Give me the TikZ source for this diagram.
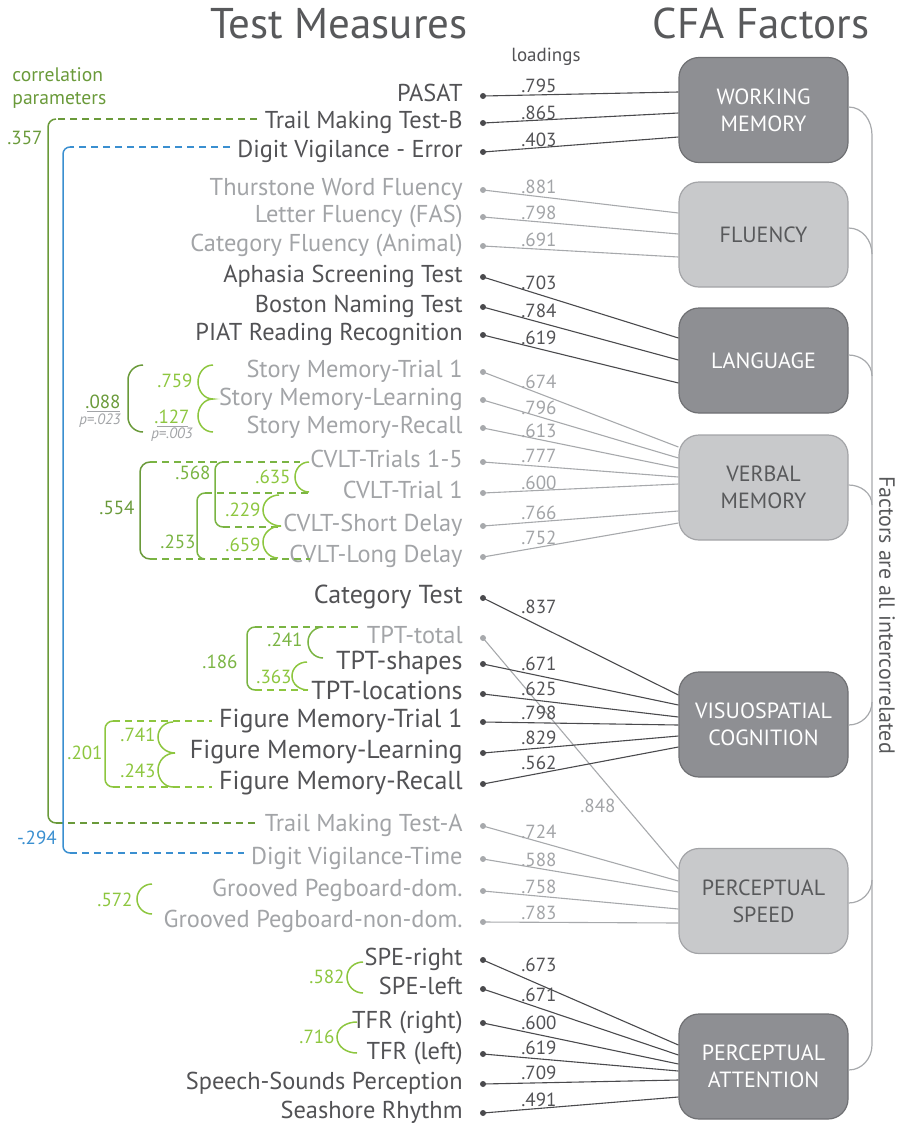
\documentclass[tikz,border=0pt]{standalone}
\usepackage{fontspec}
\setmainfont{PT Sans}
\definecolor{cTd}{HTML}{525255}
\definecolor{cTg}{HTML}{A2A4A7}
\definecolor{cLd}{HTML}{4A4A4D}
\definecolor{cLg}{HTML}{A7A9AC}
\definecolor{cBd}{HTML}{8E8F93}
\definecolor{cBdB}{HTML}{6F7073}
\definecolor{cBg}{HTML}{C8C9CB}
\definecolor{cBgB}{HTML}{A3A4A7}
\definecolor{cTitle}{HTML}{58595B}
\definecolor{gDk}{HTML}{6A9A3A}
\definecolor{gMd}{HTML}{7AB443}
\definecolor{gLt}{HTML}{8DC63F}
\definecolor{blu}{HTML}{3A8FD0}
\begin{document}
\begin{tikzpicture}[x=0.5pt,y=-0.5pt,
  itemd/.style={font=\fontsize{12.2}{14}\selectfont, text=cTd, inner sep=0pt},
  itemD/.style={font=\fontsize{13}{15}\selectfont, text=cTd, inner sep=0pt},
  itemg/.style={font=\fontsize{12.2}{14}\selectfont, text=cTg, inner sep=0pt},
  dotd/.style={circle, fill=cLd, inner sep=0pt, minimum size=3pt},
  dotD/.style={dotd},
  dotg/.style={circle, fill=cLg, inner sep=0pt, minimum size=3pt},
  lnd/.style={draw=cLd, line width=0.55pt},
  lnD/.style={lnd},
  lng/.style={draw=cLg, line width=0.55pt},
  labd/.style={font=\fontsize{9.5}{11}\selectfont, text=cTd, inner sep=0pt},
  labD/.style={labd},
  labg/.style={font=\fontsize{9.5}{11}\selectfont, text=cTg, inner sep=0pt},
  boxd/.style={rounded corners=10pt, fill=cBd, draw=cBdB, line width=0.6pt, minimum width=84.5pt, minimum height=52.5pt, text=white, align=center, font=\fontsize{11}{13.5}\selectfont},
  boxg/.style={rounded corners=10pt, fill=cBg, draw=cBgB, line width=0.6pt, minimum width=84.5pt, minimum height=52.5pt, text=cTitle, align=center, font=\fontsize{11}{13.5}\selectfont},
  brk/.style={line width=0.75pt},
  dsh/.style={line width=0.75pt, dash pattern=on 3.5pt off 2.5pt},
  cl/.style={font=\fontsize{9.5}{11}\selectfont, inner sep=0pt},
  pv/.style={font=\fontsize{7.5}{9}\itshape\selectfont, text=cTg, inner sep=0pt},
  fc/.style={draw=cLg, line width=0.6pt}
]
\useasboundingbox (0,0) rectangle (900,1126);

% titles
\node[font=\fontsize{21.5}{24}\selectfont, text=cTitle, anchor=base east, inner sep=0pt] (t1) at (468,38) {Test Measures};
\node[font=\fontsize{21.5}{24}\selectfont, text=cTitle, anchor=base, inner sep=0pt] (t2) at (761,38) {CFA Factors};
\node[font=\fontsize{9.5}{11}\selectfont, text=cTd, inner sep=0pt] (ld) at (546,57) {loadings};
\node[font=\fontsize{9.8}{12.5}\selectfont, text=gDk, anchor=west, inner sep=0pt] (cp1) at (12,75) {correlation};
\node[font=\fontsize{9.8}{12.5}\selectfont, text=gDk, anchor=west, inner sep=0pt] (cp2) at (12,100) {parameters};

% factor boxes
\node[boxd] (wm) at (763.5,110) {WORKING\\MEMORY};
\node[boxg] (fl) at (763.5,234.5) {FLUENCY};
\node[boxd] (la) at (763.5,360.5) {LANGUAGE};
\node[boxg] (vm) at (763.5,487.5) {VERBAL\\MEMORY};
\node[boxd] (vc) at (763.5,724.5) {VISUOSPATIAL\\COGNITION};
\node[boxg] (ps) at (763.5,901) {PERCEPTUAL\\SPEED};
\node[boxd] (pa) at (763.5,1066.5) {PERCEPTUAL\\ATTENTION};

% intercorrelation line
\draw[fc] (wm.east |- 0,107) to[out=0,in=90] (872,135) -- (872,1045) to[out=-90,in=0] (pa.east |- 0,1070);
\draw[fc] (fl.east |- 0,228) to[out=0,in=90] (872,254);
\draw[fc] (la.east |- 0,355) to[out=0,in=90] (872,376);
\draw[fc] (vm.east |- 0,485) to[out=0,in=90] (872,505);
\draw[fc] (vc.east |- 0,725) to[out=0,in=-90] (872,702);
\draw[fc] (ps.east |- 0,903) to[out=0,in=-90] (872,880);
\node[rotate=-90, font=\fontsize{11}{12}\selectfont, text=cTitle, inner sep=0pt] (fai) at (887,615) {Factors are all intercorrelated};

% items, dots, loadings
\foreach \n/\txt/\y/\cc/\bx/\ty/\ld/\lx/\ly in {
1/PASAT/96/d/wm/92/.795/521/86,
2/Trail Making Test-B/123/d/wm/113/.865/521/113,
3/Digit Vigilance - Error/152/d/wm/137/.403/521/140,
4/Thurstone Word Fluency/190/g/fl/213/.881/521/187,
5/Letter Fluency (FAS)/217/g/fl/234/.798/521/213,
6/Category Fluency (Animal)/246/g/fl/257/.691/521/240,
7/Aphasia Screening Test/277/d/la/338/.703/521/283,
8/Boston Naming Test/307/d/la/360/.784/521/311,
9/PIAT Reading Recognition/335/d/la/383/.619/521/338,
10/Story Memory-Trial 1/372/g/vm/447/.674/521/382,
11/Story Memory-Learning/400/g/vm/458/.796/521/408,
12/Story Memory-Recall/428/g/vm/468/.613/521/431,
13/CVLT-Trials 1-5/462/g/vm/477/.777/521/456,
14/CVLT-Trial 1/493/g/vm/484/.600/521/483,
15/CVLT-Short Delay/526/g/vm/511/.766/521/513,
16/CVLT-Long Delay/557/g/vm/523/.752/521/538,
17/Category Test/598/D/vc/695/.837/521/607,
18/TPT-total/638/g/ps/869/.848/580/806,
19/TPT-shapes/664/D/vc/705/.671/521/664,
20/TPT-locations/694/D/vc/717/.625/521/689,
21/Figure Memory-Trial 1/722/D/vc/725/.798/521/713,
22/Figure Memory-Learning/753/D/vc/736/.829/521/738,
23/Figure Memory-Recall/784/D/vc/747/.562/521/763,
24/Trail Making Test-A/826/g/ps/881/.724/521/832,
25/Digit Vigilance-Time/859/g/ps/892/.588/521/860,
26/Grooved Pegboard-dom./891/g/ps/909/.758/521/887,
27/Grooved Pegboard-non-dom./922/g/ps/923/.783/521/913,
28/SPE-right/960/d/pa/1045/.673/521/965,
29/SPE-left/989/d/pa/1055/.671/521/995,
30/TFR (right)/1023/d/pa/1064/.600/521/1023,
31/TFR (left)/1054/d/pa/1071/.619/521/1048,
32/Speech-Sounds Perception/1084/d/pa/1080/.709/521/1073,
33/Seashore Rhythm/1113/d/pa/1097/.491/521/1100}{
  \node[item\cc, anchor=base east] (i\n) at (463,\y+5) {\txt};
  \node[dot\cc] (d\n) at (483,\y) {};
  \draw[ln\cc] (d\n.center) -- (\bx.west |- 0,\ty);
  \node[lab\cc, anchor=west] (l\n) at (\lx,\ly) {\ld};
}

% .357 bracket
\draw[dsh, gDk] (257,119) -- (56,119);
\draw[brk, gDk] (56,119) to[out=180,in=90] (48,127) -- (48,815) to[out=-90,in=180] (56,823);
\draw[dsh, gDk] (56,823) -- (256,823);
\node[cl, text=gDk] (c357) at (25,138) {.357};
% -.294 bracket
\draw[dsh, blu] (230,147) -- (70,147);
\draw[brk, blu] (70,147) to[out=180,in=90] (63,154) -- (63,846) to[out=-90,in=180] (70,853);
\draw[dsh, blu] (70,853) -- (244,853);
\node[cl, text=blu] (c294) at (37,838) {-.294};

% story memory
\draw[brk, gDk] (143,365) to[out=180,in=90] (128,380) -- (128,417) to[out=-90,in=180] (143,432);
\node[cl, text=gDk] (c088) at (103,402) {.088};
\draw[cTg, line width=0.5pt] (87,411) -- (120,411);
\node[pv] (p023) at (100,421) {p=.023};
\draw[brk, gLt] (213,365) to[out=180,in=90] (198,382) to[out=-90,in=180] (213,399) to[out=180,in=90] (198,416) to[out=-90,in=180] (213,432);
\node[cl, text=gLt] (c759) at (175,381) {.759};
\node[cl, text=gLt] (c127) at (172,417) {.127};
\draw[cTg, line width=0.5pt] (157,426) -- (188,426);
\node[pv] (p003) at (172,435) {p=.003};

% CVLT
\draw[dsh, gMd] (150,462) -- (300,462);
\draw[brk, gDk] (150,462) to[out=180,in=90] (140,472) -- (140,549) to[out=-90,in=180] (150,559);
\draw[dsh, gMd] (150,559) -- (310,559);
\node[cl, text=gDk] (c554) at (117,508) {.554};
\draw[brk, gMd] (223,462) to[out=180,in=90] (215,470) -- (215,519) to[out=-90,in=180] (223,527);
\draw[dsh, gMd] (223,527) -- (278,527);
\node[cl, text=gMd] (c568) at (193,473) {.568};
\draw[dsh, gMd] (205,493) -- (309,493);
\draw[brk, gMd] (205,493) to[out=180,in=90] (197,501) -- (197,551) to[out=-90,in=180] (205,559);
\node[cl, text=gMd] (c253) at (178,542) {.253};
\draw[brk, gLt] (309,462) to[out=180,in=90] (295,477) to[out=-90,in=180] (309,492);
\node[cl, text=gLt] (c635) at (273,477) {.635};
\draw[brk, gLt] (279,495) to[out=180,in=90] (263,510) to[out=-90,in=180] (281,526) to[out=180,in=90] (263,542) to[out=-90,in=180] (278,558);
\node[cl, text=gLt] (c229) at (243,510) {.229};
\node[cl, text=gLt] (c659) at (243,545) {.659};

% TPT
\draw[dsh, gMd] (255,627) -- (360,627);
\draw[brk, gMd] (255,627) to[out=180,in=90] (247,635) -- (247,682) to[out=-90,in=180] (255,690);
\draw[dsh, gLt] (255,690) -- (308,690);
\node[cl, text=gMd] (c186) at (220,662) {.186};
\draw[brk, gMd] (323,627) to[out=180,in=90] (308,642) to[out=-90,in=180] (323,658);
\node[cl, text=gMd] (c241) at (285,640) {.241};
\draw[brk, gLt] (307,662) to[out=180,in=90] (292,676) to[out=-90,in=180] (308,690);
\node[cl, text=gLt] (c363) at (274,677) {.363};

% Figure memory
\draw[dsh, gLt] (113,721) -- (212,721);
\draw[brk, gLt] (113,721) to[out=180,in=90] (105,729) -- (105,779) to[out=-90,in=180] (113,787);
\draw[dsh, gLt] (113,787) -- (212,787);
\node[cl, text=gLt] (c201) at (85,753) {.201};
\draw[brk, gLt] (173,722) to[out=180,in=90] (158,737) to[out=-90,in=180] (175,753) to[out=180,in=90] (158,770) to[out=-90,in=180] (173,787);
\node[cl, text=gLt] (c741) at (138,735) {.741};
\node[cl, text=gLt] (c243) at (138,771) {.243};

% pegboard, SPE, TFR
\draw[brk, gLt] (152,884) to[out=180,in=90] (137,899) to[out=-90,in=180] (152,914);
\node[cl, text=gLt] (c572) at (115,900) {.572};
\draw[brk, gLt] (363,962) to[out=180,in=90] (347,977) to[out=-90,in=180] (363,993);
\node[cl, text=gLt] (c582) at (327,977) {.582};
\draw[brk, gLt] (357,1022) to[out=180,in=90] (337,1037) to[out=-90,in=180] (357,1053);
\node[cl, text=gLt] (c716) at (317,1037) {.716};
\end{tikzpicture}
\end{document}
